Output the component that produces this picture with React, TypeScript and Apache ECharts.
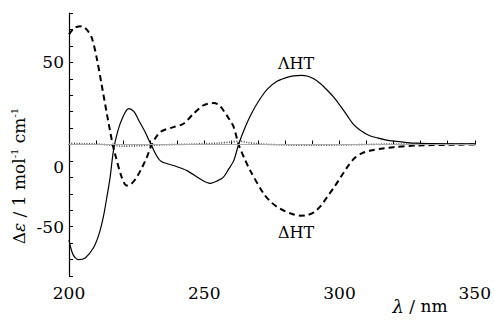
import React, { useEffect, useRef } from "react";
import * as echarts from "echarts";

const lambdaHTx = [200, 201.5, 203.5, 206, 209, 211, 212.7, 214, 215.2, 216.4, 218, 220, 222, 224, 226, 228, 230.6, 233.7, 238.6, 243.6, 248.5, 252.2, 255, 257.1, 259, 260.9, 262.7, 265, 267.5, 270.7, 273.5, 276.9, 280, 283, 286, 288, 290.5, 293, 295.5, 298, 300.5, 302.8, 305, 307.8, 311, 314, 317, 320, 325, 328.7, 335, 340, 345, 350];
const lambdaHTy = [-58, -67, -70, -69, -63, -55, -44, -32, -20, -4, 8, 17, 21.8, 20, 14, 8, -1, -9.8, -12.8, -15.9, -21, -23.6, -22, -19.9, -15, -9.8, 0, 10, 19, 28, 34, 38.5, 40.5, 41.7, 42, 41.7, 40, 37, 33, 28.5, 23, 17.7, 12.5, 8.5, 5.5, 4, 2.8, 2, 1.2, 0.8, 0.5, 0.4, 0.4, 0.4];

const deltaHTx = [200, 202, 204.7, 206.5, 208.4, 210.2, 212, 214, 216.1, 217, 219.5, 221.3, 223, 225, 227, 228.8, 230.6, 233.7, 238.6, 242.3, 246, 249.7, 253.4, 255.5, 257.1, 259, 260.9, 262.7, 265, 267, 272, 275, 278, 282, 285.6, 288, 290.5, 293, 295.4, 298, 300.4, 303, 305.3, 308, 311.5, 316, 320, 328.7, 340, 350];
const deltaHTy = [67, 71, 72, 70, 65, 53, 37, 18.7, 0.4, -5.7, -20, -25, -24, -20, -14, -7.7, 0, 7.5, 10.6, 12.6, 18.7, 23.8, 25.2, 24, 20.7, 16, 10.6, 0, -9, -15.9, -30, -35.5, -39, -42, -43.3, -43, -41.3, -37.5, -32, -26, -20, -13.5, -8.7, -5.5, -3.7, -2.4, -1.6, -0.6, -0.2, 0];

const baseX = [200, 205, 210, 215, 220, 225, 230, 235, 240, 245, 250, 255, 260, 263, 266, 270, 280, 290, 300, 310, 320, 330, 340, 350];
const baseY = [0.8, 0.5, 0.3, -0.3, -1.0, -0.8, -0.5, -0.2, 0, 0.2, 0.5, 0.8, 1.5, 2.0, 1.2, 0.4, -0.3, -0.5, -0.3, 0, 0.3, 0.2, 0.3, 0.3];

const xTickLabels = [200, 250, 300, 350];
const yTickLabels = [-50, 0, 50];

const FONT = "DejaVu Serif";

export default function App() {
  const ref = useRef<HTMLDivElement>(null);
  useEffect(() => {
    if (!ref.current) return;
    const chart = echarts.init(ref.current, null, { renderer: "svg" });
    const pairs = (xs: number[], ys: number[]) => xs.map((x, i) => [x, ys[i]]);
    chart.setOption({
      animation: false,
      backgroundColor: "#ffffff",
      textStyle: { fontFamily: FONT },
      grid: { left: 69, right: 19, top: 13, bottom: 44 },
      xAxis: {
        type: "value",
        min: 200,
        max: 350,
        interval: 10,
        axisLine: { show: true, lineStyle: { color: "#000", width: 1.2 } },
        axisTick: { show: true, inside: true, length: 4, lineStyle: { color: "#000" } },
        axisLabel: {
          fontFamily: FONT,
          fontSize: 17,
          color: "#000",
          margin: 8,
          formatter: (v: number) => (xTickLabels.includes(v) ? String(v) : ""),
        },
        splitLine: { show: false },
      },
      yAxis: {
        type: "value",
        min: -80,
        max: 80,
        interval: 10,
        axisLine: { show: true, lineStyle: { color: "#000", width: 1.2 } },
        axisTick: { show: true, inside: true, length: 4, lineStyle: { color: "#000" } },
        axisLabel: {
          fontFamily: FONT,
          fontSize: 17,
          color: "#000",
          margin: 5,
          formatter: (v: number) =>
            yTickLabels.includes(v) ? (v === 0 ? "{z|0}" : String(v)) : "",
          rich: { z: { fontFamily: FONT, fontSize: 17, color: "#000", padding: [44, 0, 0, 0] } },
        },
        splitLine: { show: false },
      },
      series: [
        {
          name: "baseline",
          type: "line",
          data: pairs(baseX, baseY),
          showSymbol: false,
          smooth: 0.3,
          lineStyle: { color: "#444", width: 1.6, type: [1, 1.5] },
          markLine: {
            silent: true,
            symbol: "none",
            label: { show: false },
            lineStyle: { color: "#aaa", width: 1, type: "solid" },
            data: [{ yAxis: 0 }],
          },
          z: 1,
        },
        {
          name: "ΛHT",
          type: "line",
          data: pairs(lambdaHTx, lambdaHTy),
          showSymbol: false,
          smooth: 0.3,
          lineStyle: { color: "#000", width: 1.2, type: "solid" },
          z: 3,
        },
        {
          name: "ΔHT",
          type: "line",
          data: pairs(deltaHTx, deltaHTy),
          showSymbol: false,
          smooth: 0.3,
          lineStyle: { color: "#000", width: 2, type: [6, 4] },
          z: 2,
        },
      ],
      graphic: [
        {
          type: "text",
          x: 19,
          y: 176,
          rotation: Math.PI / 2,
          style: {
            text: "Δ{i|ε} / 1 mol{s|-1} cm{s|-1}",
            fontFamily: FONT,
            fontSize: 17,
            fill: "#000",
            align: "center",
            verticalAlign: "middle",
            rich: {
              i: { fontFamily: FONT, fontSize: 17, fontStyle: "italic", fill: "#000" },
              s: { fontFamily: FONT, fontSize: 10, fill: "#000", padding: [0, 0, 10, 0] },
            },
          },
        },
        {
          type: "text",
          x: 420,
          y: 306,
          style: {
            text: "{i|λ} / nm",
            fontFamily: FONT,
            fontSize: 17,
            fill: "#000",
            align: "center",
            verticalAlign: "middle",
            rich: {
              i: { fontFamily: FONT, fontSize: 18, fontStyle: "italic", fill: "#000" },
            },
          },
        },
        {
          type: "text",
          x: 296,
          y: 63,
          style: {
            text: "ΛHT",
            fontFamily: FONT,
            fontSize: 16,
            fill: "#000",
            align: "center",
            verticalAlign: "middle",
          },
        },
        {
          type: "text",
          x: 296,
          y: 232,
          style: {
            text: "ΔHT",
            fontFamily: FONT,
            fontSize: 16,
            fill: "#000",
            align: "center",
            verticalAlign: "middle",
          },
        },
      ],
    });
    return () => chart.dispose();
  }, []);
  return <div ref={ref} style={{ width: 494, height: 320, position: "fixed", left: 0, top: 0 }} />;
}
